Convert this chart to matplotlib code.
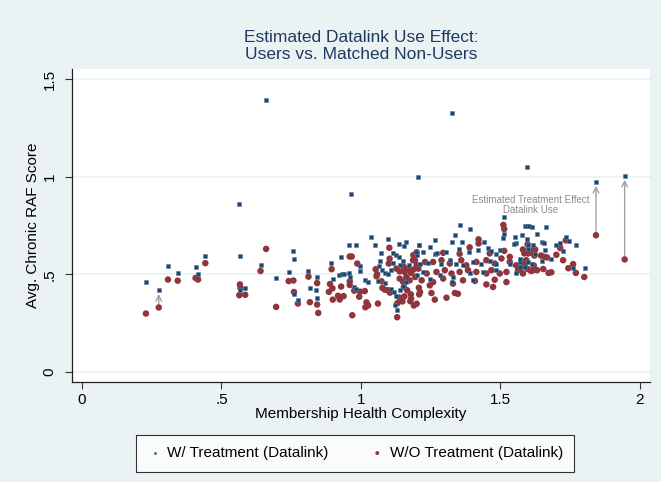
import matplotlib.pyplot as plt

# W/ Treatment (Datalink) -- blue squares
treat_x = [0.229, 0.275, 0.308, 0.343, 0.407, 0.416, 0.442, 0.568, 0.566, 0.585,
           0.640, 0.696, 0.741, 0.758, 0.761, 0.760, 0.774, 0.812, 0.817, 0.563,
           0.659, 1.326, 1.595, 1.204, 0.964,
           1.035, 0.958, 0.984, 0.930, 0.894, 0.843, 0.839, 0.843, 0.899, 0.922,
           0.932, 0.939, 0.958, 0.960, 0.996, 0.997, 1.015, 1.025, 0.975, 0.981,
           1.052, 1.073, 1.068, 1.065, 1.075, 1.086, 1.096, 1.114, 1.126, 1.137,
           1.138, 1.162, 1.155, 1.200, 1.208, 1.063, 1.086, 1.108, 1.119, 1.127,
           1.122, 1.130, 1.107, 1.114, 1.098, 1.142, 1.152, 1.172, 1.162, 1.152,
           1.142,
           1.515, 1.354, 1.392, 1.264, 1.207, 1.249, 1.337, 1.325, 1.364, 1.443,
           1.455, 1.514, 1.511, 1.553, 1.558, 1.549, 1.587, 1.596, 1.603, 1.597,
           1.599, 1.196, 1.224, 1.265, 1.273, 1.305, 1.352, 1.387, 1.419, 1.468,
           1.498, 1.486, 1.212, 1.241, 1.289, 1.319, 1.342, 1.366, 1.402, 1.432,
           1.462, 1.484, 1.534, 1.570, 1.224, 1.283, 1.330, 1.390, 1.439, 1.486,
           1.558, 1.587, 1.402, 1.325, 1.247, 1.200,
           1.614, 1.663, 1.579, 1.631, 1.651, 1.656, 1.735, 1.747, 1.715, 1.701,
           1.771, 1.598, 1.617, 1.626, 1.659, 1.725, 1.680, 1.648, 1.569, 1.615,
           1.601, 1.761, 1.802, 1.571, 1.843, 1.946]
treat_y = [0.459, 0.419, 0.540, 0.509, 0.536, 0.500, 0.594, 0.594, 0.418, 0.431,
           0.550, 0.481, 0.510, 0.619, 0.577, 0.397, 0.370, 0.519, 0.431, 0.860,
           1.393, 1.327, 1.050, 0.998, 0.911,
           0.692, 0.648, 0.651, 0.588, 0.560, 0.485, 0.418, 0.380, 0.474, 0.498,
           0.502, 0.502, 0.507, 0.485, 0.543, 0.519, 0.469, 0.460, 0.433, 0.426,
           0.651, 0.608, 0.569, 0.543, 0.521, 0.505, 0.680, 0.607, 0.598, 0.588,
           0.656, 0.665, 0.644, 0.598, 0.649, 0.467, 0.454, 0.424, 0.411, 0.388,
           0.342, 0.318, 0.521, 0.557, 0.500, 0.545, 0.570, 0.550, 0.460, 0.440,
           0.420,
           0.792, 0.753, 0.732, 0.675, 0.648, 0.641, 0.703, 0.663, 0.663, 0.667,
           0.636, 0.708, 0.686, 0.692, 0.661, 0.653, 0.747, 0.747, 0.747, 0.680,
           0.651, 0.613, 0.612, 0.603, 0.610, 0.615, 0.627, 0.612, 0.625, 0.619,
           0.625, 0.605, 0.555, 0.558, 0.555, 0.572, 0.555, 0.546, 0.563, 0.552,
           0.569, 0.555, 0.555, 0.563, 0.512, 0.495, 0.486, 0.504, 0.512, 0.521,
           0.504, 0.538, 0.469, 0.460, 0.478, 0.495,
           0.742, 0.741, 0.701, 0.706, 0.667, 0.661, 0.692, 0.668, 0.658, 0.651,
           0.651, 0.627, 0.649, 0.605, 0.622, 0.617, 0.579, 0.567, 0.579, 0.552,
           0.563, 0.531, 0.531, 0.536, 0.973, 1.004]

# W/O Treatment (Datalink) -- red circles
ctrl_x = [0.229, 0.275, 0.308, 0.343, 0.407, 0.416, 0.442, 0.566, 0.568, 0.564,
          0.585, 0.640, 0.660, 0.696, 0.741, 0.758, 0.760, 0.774, 0.812, 0.817,
          0.960, 0.967, 0.895, 0.843, 0.889, 0.898, 0.929, 0.885, 0.899, 0.918,
          0.924, 0.938, 0.843, 0.847, 0.969, 0.960, 0.960, 0.976, 0.997, 0.994,
          0.987, 1.014, 1.020, 1.016, 1.026, 1.061, 1.053, 1.058, 1.056, 1.102,
          1.103, 1.100, 1.074, 1.077, 1.086, 1.098, 1.104, 1.127, 1.139, 1.154,
          1.157, 1.169, 1.180, 1.188, 1.200, 1.195, 1.163, 1.175, 1.139, 1.151,
          1.154, 1.166, 1.179, 1.156, 1.138, 1.131, 1.149, 1.177, 1.200, 1.208,
          1.209, 1.130, 1.188, 1.194,
          1.511, 1.514, 1.422, 1.422, 1.390, 1.200, 1.295, 1.354, 1.462, 1.514,
          1.534, 1.581, 1.599,
          1.187, 1.230, 1.259, 1.289, 1.319, 1.360, 1.378, 1.414, 1.450, 1.480,
          1.504, 1.534, 1.557, 1.593,
          1.206, 1.236, 1.271, 1.301, 1.325, 1.354, 1.384, 1.414, 1.450, 1.468,
          1.498, 1.522, 1.564, 1.581,
          1.218, 1.259, 1.295, 1.330, 1.366, 1.409, 1.450, 1.480, 1.522, 1.247,
          1.212, 1.253, 1.265, 1.307, 1.337, 1.348, 1.190, 1.180, 1.474,
          1.598, 1.735, 1.620, 1.625, 1.715, 1.586, 1.605, 1.622, 1.646, 1.659,
          1.668, 1.701, 1.725, 1.579, 1.589, 1.584, 1.574, 1.620, 1.618, 1.598,
          1.610, 1.632, 1.654, 1.673, 1.683, 1.744, 1.761, 1.771, 1.801, 1.843,
          1.946]
ctrl_y = [0.299, 0.330, 0.473, 0.467, 0.481, 0.473, 0.557, 0.448, 0.430, 0.393,
          0.395, 0.517, 0.630, 0.333, 0.465, 0.468, 0.409, 0.350, 0.488, 0.357,
          0.591, 0.591, 0.526, 0.455, 0.450, 0.428, 0.437, 0.410, 0.370, 0.390,
          0.371, 0.388, 0.345, 0.302, 0.290, 0.464, 0.445, 0.416, 0.411, 0.385,
          0.555, 0.414, 0.356, 0.331, 0.340, 0.350, 0.526, 0.500, 0.490, 0.636,
          0.580, 0.555, 0.464, 0.430, 0.421, 0.418, 0.406, 0.529, 0.515, 0.538,
          0.512, 0.527, 0.507, 0.524, 0.546, 0.486, 0.486, 0.469, 0.478, 0.462,
          0.435, 0.418, 0.397, 0.387, 0.381, 0.352, 0.361, 0.362, 0.349, 0.431,
          0.397, 0.280, 0.598, 0.572,
          0.753, 0.732, 0.679, 0.658, 0.638, 0.613, 0.610, 0.605, 0.607, 0.620,
          0.589, 0.627, 0.607,
          0.572, 0.563, 0.563, 0.572, 0.555, 0.572, 0.546, 0.563, 0.572, 0.555,
          0.581, 0.563, 0.546, 0.572,
          0.529, 0.504, 0.512, 0.521, 0.504, 0.512, 0.521, 0.512, 0.504, 0.521,
          0.504, 0.512, 0.521, 0.504,
          0.469, 0.460, 0.478, 0.452, 0.469, 0.466, 0.448, 0.472, 0.460, 0.443,
          0.409, 0.404, 0.370, 0.380, 0.404, 0.400, 0.340, 0.375, 0.435,
          0.653, 0.674, 0.627, 0.627, 0.634, 0.607, 0.610, 0.596, 0.596, 0.589,
          0.586, 0.600, 0.572, 0.565, 0.552, 0.545, 0.531, 0.545, 0.521, 0.527,
          0.517, 0.521, 0.527, 0.507, 0.510, 0.531, 0.552, 0.507, 0.486, 0.700,
          0.576]

# treatment effect arrows (from matched non-user up to user)
arrow_x = [0.275, 1.843, 1.946]
arrow_from = [0.330, 0.700, 0.576]
arrow_to = [0.419, 0.973, 1.004]

x_ticks = [0, 0.5, 1, 1.5, 2]
x_labels = ["0", ".5", "1", "1.5", "2"]
y_ticks = [0, 0.5, 1, 1.5]
y_labels = ["0", ".5", "1", "1.5"]

bg = "#EAF2F3"
blue = "#1A476F"
red = "#90353B"
font = "Liberation Sans"

fig = plt.figure(figsize=(6.61, 4.82), dpi=100, facecolor=bg)
ax = fig.add_axes([0.109, 0.207, 0.874, 0.650])
ax.set_facecolor("white")

for yv in y_ticks:
    ax.axhline(yv, color=bg, lw=1.2, zorder=0)

ax.scatter(treat_x, treat_y, marker="s", s=9, color=blue, edgecolors="#5A7FA0",
           linewidths=0.4, zorder=3, label="W/ Treatment (Datalink)")
ax.scatter(ctrl_x, ctrl_y, marker="o", s=22, color=red, edgecolors="none",
           zorder=2, label="W/O Treatment (Datalink)")

for x, y0, y1 in zip(arrow_x, arrow_from, arrow_to):
    ax.annotate("", xy=(x, y1 - 0.02), xytext=(x, y0 + 0.02),
                arrowprops=dict(arrowstyle="->", color="#A0A0A0", lw=1.0,
                                shrinkA=0, shrinkB=0), zorder=1)

ax.text(1.609, 0.855, "Estimated Treatment Effect\nDatalink Use", ha="center",
        va="center", fontsize=7, color="#8C8C8C", family=font, linespacing=1.0)

ax.set_xlim(-0.036, 2.036)
ax.set_ylim(-0.053, 1.552)
ax.set_xticks(x_ticks)
ax.set_xticklabels(x_labels, fontsize=11, family=font)
ax.set_yticks(y_ticks)
ax.set_yticklabels(y_labels, fontsize=11, family=font, rotation=90, va="center")
ax.tick_params(direction="out", length=5, width=0.8, color="#333333", pad=3)
ax.tick_params(axis="y", pad=6)

for s in ["top", "right"]:
    ax.spines[s].set_visible(False)
for s in ["left", "bottom"]:
    ax.spines[s].set_color("#222222")
    ax.spines[s].set_linewidth(0.9)

ax.set_xlabel("Membership Health Complexity", fontsize=11, family=font, labelpad=0)
ax.set_ylabel("Avg. Chronic RAF Score", fontsize=11, family=font, labelpad=2)

ax.set_title("Estimated Datalink Use Effect:\nUsers vs. Matched Non-Users",
             fontsize=12.5, color="#1F3A5F", family=font, pad=7, linespacing=1.15)

leg = fig.legend(loc="center", bbox_to_anchor=(0.537, 0.060), ncol=2,
                 frameon=True, fancybox=False, edgecolor="black",
                 prop={"family": font, "size": 11}, markerscale=0.6,
                 handletextpad=0.3, columnspacing=2.7, borderpad=0.75,
                 handlelength=1.0)
leg.get_frame().set_linewidth(0.8)

fig.savefig("out.png", dpi=100, facecolor=bg)
